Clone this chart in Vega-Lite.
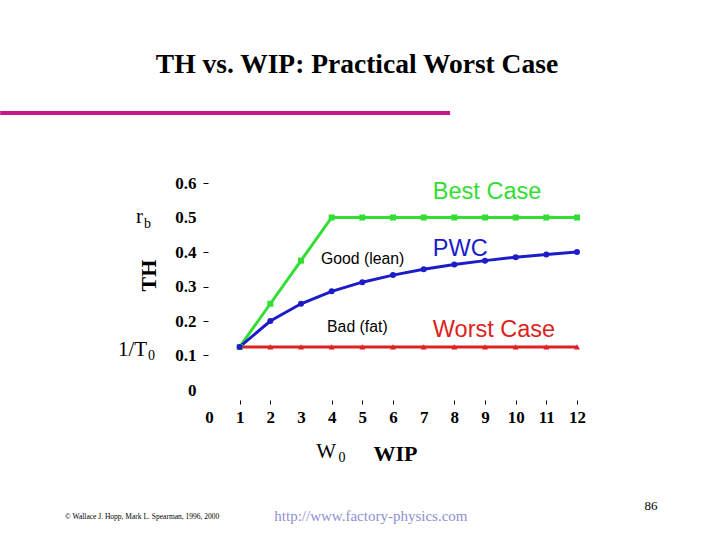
{
  "$schema": "https://vega.github.io/schema/vega-lite/v6.json",
  "width": 368,
  "height": 207,
  "autosize": {"type": "none"},
  "padding": {"left": 209, "top": 183, "right": 143, "bottom": 150},
  "background": "white",
  "config": {"view": {"stroke": null}, "font": "Liberation Serif"},
  "title": {
    "text": "TH vs. WIP: Practical Worst Case",
    "font": "Liberation Serif",
    "fontSize": 27.5,
    "fontWeight": "bold",
    "color": "black",
    "anchor": "middle",
    "frame": "group",
    "dx": -36,
    "offset": 32
  },
  "encoding": {
    "x": {
      "field": "wip",
      "type": "quantitative",
      "scale": {"domain": [0, 12], "nice": false, "zero": false},
      "axis": {
        "values": [0, 1, 2, 3, 4, 5, 6, 7, 8, 9, 10, 11, 12],
        "domain": false,
        "grid": false,
        "offset": 10,
        "tickSize": 4,
        "tickColor": "black",
        "tickOpacity": {"condition": {"test": "datum.value == 0 || datum.value == 3 || datum.value == 7", "value": 0}, "value": 1},
        "labelPadding": 5,
        "labelOverlap": false,
        "labelBound": false,
        "labelFlush": false,
        "labelFont": "Liberation Serif",
        "labelFontSize": 17,
        "labelFontWeight": "bold",
        "labelColor": "black",
        "labelExpr": "format(datum.value, 'd')",
        "title": "WIP",
        "titleFont": "Liberation Serif",
        "titleFontSize": 22,
        "titleFontWeight": "bold",
        "titleColor": "black",
        "titlePadding": 18,
        "titleX": 186
      }
    },
    "y": {
      "field": "th",
      "type": "quantitative",
      "scale": {"domain": [0, 0.6], "nice": false},
      "axis": {
        "values": [0, 0.1, 0.2, 0.3, 0.4, 0.5, 0.6],
        "domain": false,
        "grid": false,
        "offset": 1,
        "tickSize": 5,
        "tickColor": "black",
        "tickOpacity": {"condition": {"test": "datum.value == 0 || datum.value == 0.5", "value": 0}, "value": 1},
        "labelPadding": 7,
        "labelOverlap": false,
        "labelBound": false,
        "labelFlush": false,
        "labelFont": "Liberation Serif",
        "labelFontSize": 17,
        "labelFontWeight": "bold",
        "labelColor": "black",
        "labelExpr": "datum.value == 0 ? '0' : format(datum.value, '.1f')",
        "title": "TH",
        "titleFont": "Liberation Serif",
        "titleFontSize": 22,
        "titleFontWeight": "bold",
        "titleColor": "black",
        "titlePadding": 14,
        "titleY": 92
      }
    }
  },
  "layer": [
    {
      "data": {"values": [
        {"wip": -6.81, "wip2": 7.86, "th": 0.803}
      ]},
      "mark": {"type": "rule", "color": "#c8178c", "strokeWidth": 4, "clip": false},
      "encoding": {
        "x2": {"field": "wip2"}
      }
    },
    {
      "data": {"values": [
        {"series": "Worst Case", "wip": 1, "th": 0.125},
        {"series": "Worst Case", "wip": 2, "th": 0.125},
        {"series": "Worst Case", "wip": 3, "th": 0.125},
        {"series": "Worst Case", "wip": 4, "th": 0.125},
        {"series": "Worst Case", "wip": 5, "th": 0.125},
        {"series": "Worst Case", "wip": 6, "th": 0.125},
        {"series": "Worst Case", "wip": 7, "th": 0.125},
        {"series": "Worst Case", "wip": 8, "th": 0.125},
        {"series": "Worst Case", "wip": 9, "th": 0.125},
        {"series": "Worst Case", "wip": 10, "th": 0.125},
        {"series": "Worst Case", "wip": 11, "th": 0.125},
        {"series": "Worst Case", "wip": 12, "th": 0.125},
        {"series": "Best Case", "wip": 1, "th": 0.125},
        {"series": "Best Case", "wip": 2, "th": 0.25},
        {"series": "Best Case", "wip": 3, "th": 0.375},
        {"series": "Best Case", "wip": 4, "th": 0.5},
        {"series": "Best Case", "wip": 5, "th": 0.5},
        {"series": "Best Case", "wip": 6, "th": 0.5},
        {"series": "Best Case", "wip": 7, "th": 0.5},
        {"series": "Best Case", "wip": 8, "th": 0.5},
        {"series": "Best Case", "wip": 9, "th": 0.5},
        {"series": "Best Case", "wip": 10, "th": 0.5},
        {"series": "Best Case", "wip": 11, "th": 0.5},
        {"series": "Best Case", "wip": 12, "th": 0.5},
        {"series": "PWC", "wip": 1, "th": 0.125},
        {"series": "PWC", "wip": 2, "th": 0.2},
        {"series": "PWC", "wip": 3, "th": 0.25},
        {"series": "PWC", "wip": 4, "th": 0.286},
        {"series": "PWC", "wip": 5, "th": 0.3125},
        {"series": "PWC", "wip": 6, "th": 0.333},
        {"series": "PWC", "wip": 7, "th": 0.35},
        {"series": "PWC", "wip": 8, "th": 0.364},
        {"series": "PWC", "wip": 9, "th": 0.375},
        {"series": "PWC", "wip": 10, "th": 0.385},
        {"series": "PWC", "wip": 11, "th": 0.393},
        {"series": "PWC", "wip": 12, "th": 0.4}
      ]},
      "encoding": {
        "color": {
          "field": "series",
          "type": "nominal",
          "scale": {"domain": ["Best Case", "PWC", "Worst Case"], "range": ["#33dd33", "#1c1cc8", "#dd2222"]},
          "legend": null
        }
      },
      "layer": [
        {"mark": {"type": "line", "strokeWidth": 3}},
        {
          "mark": {"type": "point", "filled": true, "opacity": 1, "size": 36},
          "encoding": {
            "shape": {
              "field": "series",
              "type": "nominal",
              "scale": {"domain": ["Best Case", "PWC", "Worst Case"], "range": ["square", "circle", "triangle-up"]},
              "legend": null
            }
          }
        }
      ]
    },
    {
      "data": {"values": [
        {"series": "Best Case", "wip": 7.3, "th": 0.574},
        {"series": "PWC", "wip": 7.3, "th": 0.409},
        {"series": "Worst Case", "wip": 7.3, "th": 0.174}
      ]},
      "mark": {"type": "text", "font": "Liberation Sans", "fontSize": 23.5, "baseline": "middle", "align": "left", "clip": false},
      "encoding": {
        "text": {"field": "series"},
        "color": {"field": "series", "type": "nominal", "legend": null}
      }
    },
    {
      "data": {"values": [
        {"label": "Good (lean)", "wip": 3.65, "th": 0.38},
        {"label": "Bad (fat)", "wip": 3.85, "th": 0.183}
      ]},
      "mark": {"type": "text", "font": "Liberation Sans", "fontSize": 15.8, "color": "black", "baseline": "middle", "align": "left", "clip": false},
      "encoding": {"text": {"field": "label"}}
    },
    {
      "data": {"values": [
        {"label": "r", "wip": -2.15, "th": 0.501},
        {"label": "1/T", "wip": -2.02, "th": 0.116},
        {"label": "W", "wip": 4.14, "th": -0.18}
      ]},
      "mark": {"type": "text", "font": "Liberation Serif", "fontSize": 21, "color": "black", "baseline": "middle", "align": "right", "clip": false},
      "encoding": {"text": {"field": "label"}}
    },
    {
      "data": {"values": [
        {"label": "b", "wip": -2.12, "th": 0.481},
        {"label": "0", "wip": -1.99, "th": 0.099},
        {"label": "0", "wip": 4.22, "th": -0.197}
      ]},
      "mark": {"type": "text", "font": "Liberation Serif", "fontSize": 14, "color": "black", "baseline": "middle", "align": "left", "clip": false},
      "encoding": {"text": {"field": "label"}}
    },
    {
      "data": {"values": [
        {"label": "© Wallace J. Hopp, Mark L. Spearman, 1996, 2000", "wip": -2.18, "th": -0.368}
      ]},
      "mark": {"type": "text", "font": "Liberation Serif", "fontSize": 7.5, "color": "black", "baseline": "middle", "align": "center", "clip": false},
      "encoding": {"text": {"field": "label"}}
    },
    {
      "data": {"values": [
        {"label": "http://www.factory-physics.com", "wip": 5.28, "th": -0.365}
      ]},
      "mark": {"type": "text", "font": "Liberation Serif", "fontSize": 15, "color": "#8f8fd0", "baseline": "middle", "align": "center", "clip": false},
      "encoding": {"text": {"field": "label"}}
    },
    {
      "data": {"values": [
        {"label": "86", "wip": 14.41, "th": -0.336}
      ]},
      "mark": {"type": "text", "font": "Liberation Serif", "fontSize": 13, "color": "black", "baseline": "middle", "align": "center", "clip": false},
      "encoding": {"text": {"field": "label"}}
    }
  ]
}
